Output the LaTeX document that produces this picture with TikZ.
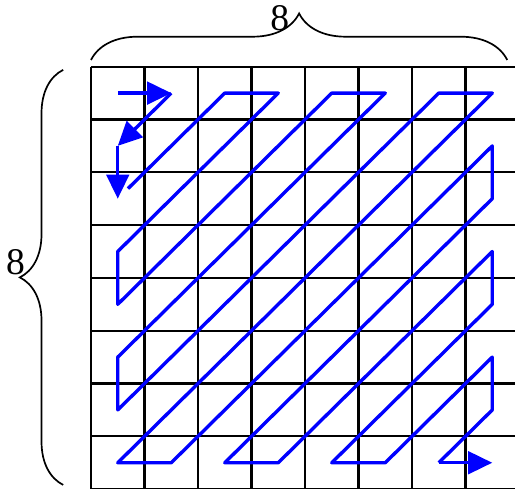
\documentclass[tikz,border=0pt]{standalone}
\usepackage{fontspec}
\setmainfont{Liberation Serif}
\usetikzlibrary{arrows.meta,decorations.pathreplacing}

\begin{document}
\begin{tikzpicture}[x=1cm, y=0.987cm,
    zigzag/.style={draw=pathColour, line width=1.8pt, line join=round},
    zigarrow/.style={zigzag, -{Triangle[length=0.45cm, width=0.42cm]}},
    sizebrace/.style={draw=gridColour, line width=0.9pt, decorate},
    countlabel/.style={font={\fontsize{20}{24}\selectfont}, inner sep=0pt}]
    \def\gridSize{8}

    \definecolor{gridColour}{HTML}{000000}
    \definecolor{pathColour}{HTML}{0000FF}

    \useasboundingbox (-1.701,1.263) rectangle (7.925,-7.979);

    % Draw grid
    \draw[step=1, gridColour, line width=1.1pt] (0,0) grid (\gridSize,-\gridSize);

    % Cell centres
    \foreach \i in {0,...,7}
        \foreach \j in {0,...,7}
            \coordinate (c\i\j) at (\i+0.5,-\j-0.5);

    % Braces and their labels
    \draw[sizebrace, decoration={brace, amplitude=0.87cm}] (0,0.127) -- (7.78,0.127);
    \draw[sizebrace, decoration={brace, amplitude=0.81cm}] (-0.52,-7.92) -- (-0.52,-0.06);
    \node[countlabel] (topCount) at (3.53,0.92) {8};
    \node[countlabel] (sideCount) at (-1.41,-3.70) {8};

    % Zig-zag scan
    \draw[zigarrow] (c00) -- (c10);
    \draw[zigarrow] (c10) -- (c01);
    \draw[zigarrow] (c01) -- (c02);
    \draw[zigzag, shorten <=0.27cm] (c02) -- (c20) -- (c30) -- (c03) -- (c04) -- (c40) -- (c50) -- (c05)
        -- (c06) -- (c60) -- (c70) -- (c07) -- (c17) -- (c71) -- (c72) -- (c27)
        -- (c37) -- (c73) -- (c74) -- (c47) -- (c57) -- (c75) -- (c76) -- (c67);
    \draw[zigarrow] (c67) -- (c77);

\end{tikzpicture}
\end{document}
